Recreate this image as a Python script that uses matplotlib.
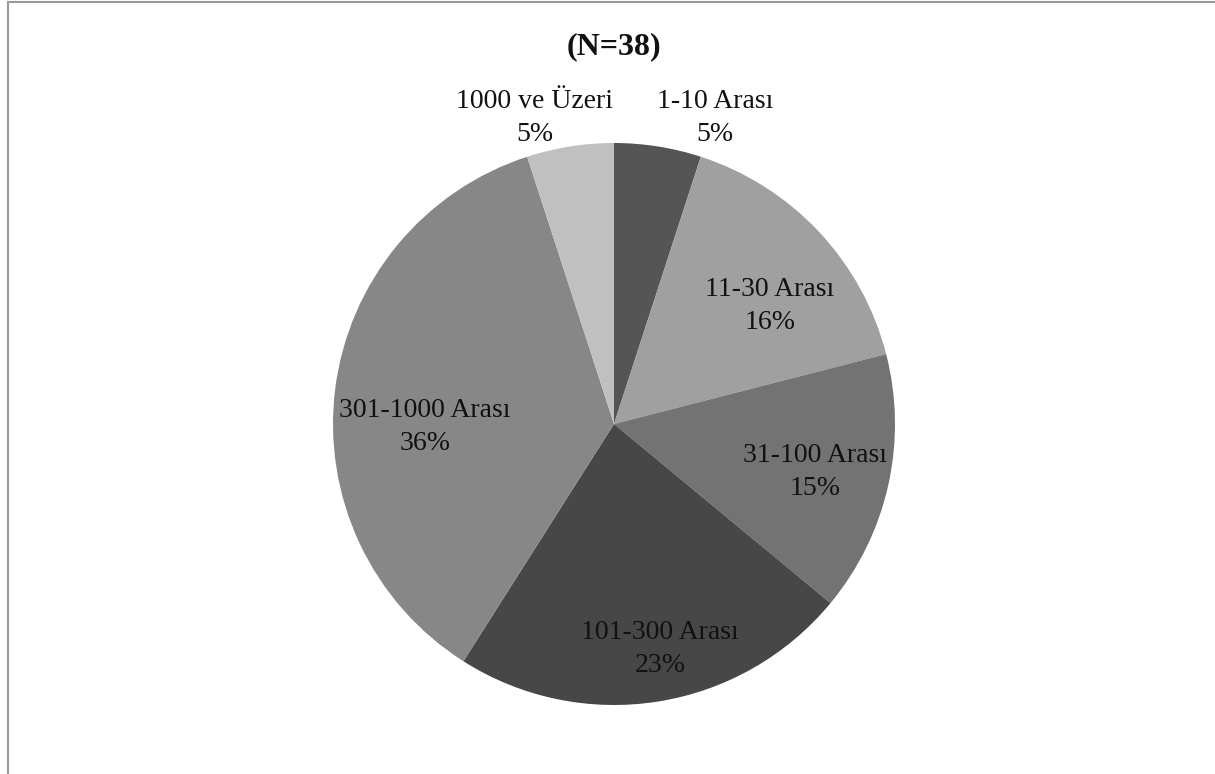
import matplotlib
matplotlib.use("Agg")
import matplotlib.pyplot as plt
from matplotlib.lines import Line2D

categories = ["1-10 Arası", "11-30 Arası", "31-100 Arası", "101-300 Arası", "301-1000 Arası", "1000 ve Üzeri"]
percents = [5, 16, 15, 23, 36, 5]
colors = ["#555555", "#a0a0a0", "#737373", "#474747", "#878787", "#c0c0c0"]
title = "(N=38)"

# label positions (data coords, pie radius = 1)
label_pos = [(0.36, 1.09), (0.555, 0.42), (0.715, -0.17), (0.164, -0.80), (-0.673, -0.01), (-0.281, 1.09)]

W, H = 1215, 774
fig = plt.figure(figsize=(W / 100, H / 100), dpi=100)
cx, cy, r = 614, 424, 281
ax = fig.add_axes([(cx - r) / W, (H - cy - r) / H, 2 * r / W, 2 * r / H])
ax.pie(percents, colors=colors, startangle=90, counterclock=False, radius=1,
       wedgeprops=dict(linewidth=0))
ax.set_xlim(-1, 1)
ax.set_ylim(-1, 1)
ax.axis("off")

font = ["Liberation Serif", "DejaVu Serif"]
for cat, p, (x, y) in zip(categories, percents, label_pos):
    ax.text(x, y, f"{cat}\n{p}%", ha="center", va="center", fontsize=20,
            family=font, color="#111111", linespacing=1.42)

fig.text(cx / W, 1 - 47 / H, title, ha="center", va="center", fontsize=23,
         fontweight="bold", family=font, color="#111111")

# border lines (left and top)
fig.add_artist(Line2D([8 / W, 8 / W], [0, 1 - 2 / H], transform=fig.transFigure, color="#999999", lw=1.5))
fig.add_artist(Line2D([8 / W, 1], [1 - 2 / H, 1 - 2 / H], transform=fig.transFigure, color="#999999", lw=1.5))

fig.savefig("out.png", dpi=100)
